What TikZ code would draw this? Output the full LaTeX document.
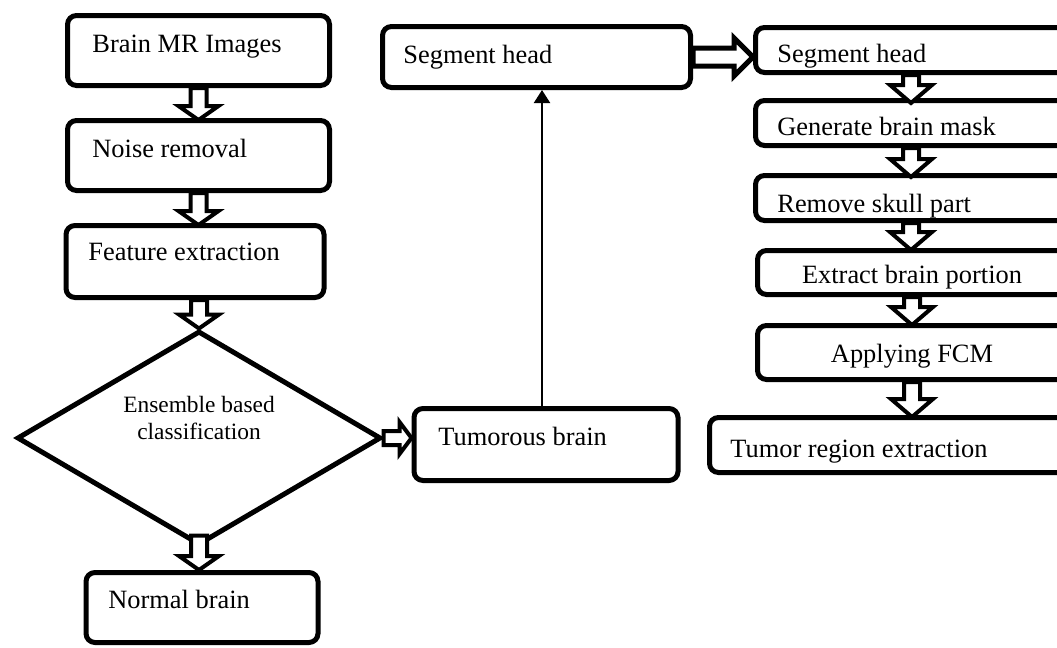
\documentclass[tikz,border=0pt]{standalone}
\usepackage{fontspec}
\setmainfont{Liberation Serif}
\usetikzlibrary{shapes.geometric,arrows.meta,calc}
\begin{document}
\begin{tikzpicture}[x=0.5pt,y=-0.5pt,
  box/.style={draw, line width=2.5pt, rounded corners=4.5pt, fill=white, inner sep=0pt},
  dia/.style={draw, diamond, line width=2.5pt, fill=white, inner sep=0pt},
  txt/.style={font=\fontsize{13.2}{15.8}\selectfont, inner sep=0pt},
  smalltxt/.style={font=\fontsize{11.7}{14}\selectfont, inner sep=0pt},
  bdown/.style n args={3}{draw, fill=white, line width=2pt, line join=miter,
    to path={let \p1=(\tikztostart), \p2=(\tikztotarget) in
      (\x1-#1,\y1) -- (\x1-#1,\y2+#3) -- (\x1-#2,\y2+#3) -- (\x1,\y2)
      -- (\x1+#2,\y2+#3) -- (\x1+#1,\y2+#3) -- (\x1+#1,\y1) -- cycle}},
  bright/.style n args={3}{draw, fill=white, line join=miter,
    to path={let \p1=(\tikztostart), \p2=(\tikztotarget) in
      (\x1,\y1-#1) -- (\x2-#3,\y1-#1) -- (\x2-#3,\y1-#2) -- (\x2,\y1)
      -- (\x2-#3,\y1+#2) -- (\x2-#3,\y1+#1) -- (\x1,\y1+#1) -- cycle}},
  bdl/.style={bdown={4pt}{10pt}{7pt}},
  bdr/.style={bdown={4pt}{10.5pt}{9pt}},
  thinarrow/.style={line width=1pt, -{Triangle[length=6.5pt,width=8pt]}}]
\path[use as bounding box, clip] (0,0) rectangle (1057,648);

% left column
\node[box, minimum width=131pt, minimum height=35pt] (b1) at (198.5,50.5) {};
\node[box, minimum width=131pt, minimum height=35pt] (b2) at (198.5,155.5) {};
\node[box, minimum width=129pt, minimum height=36pt] (b3) at (195,261.5) {};
\node[dia, minimum width=182pt, minimum height=107pt] (d) at (199,438) {};
\node[box, minimum width=116pt, minimum height=35pt] (nb) at (202,607.5) {};
\node[box, minimum width=132pt, minimum height=36pt] (tum) at (546,444.5) {};
\node[box, minimum width=154pt, minimum height=30.5pt] (seg1) at (536.5,57) {};

% right column
\node[box, minimum width=155.5pt, minimum height=22.5pt] (r1) at (911,50) {};
\node[box, minimum width=155.5pt, minimum height=22.5pt] (r2) at (911,123) {};
\node[box, minimum width=155.5pt, minimum height=22.5pt] (r3) at (911,198) {};
\node[box, minimum width=154.5pt, minimum height=22pt] (r4) at (912,272.5) {};
\node[box, minimum width=154.5pt, minimum height=27pt] (r5) at (912,352.5) {};
\node[box, minimum width=203.5pt, minimum height=27.5pt] (r6) at (913,445) {};

% texts
\node[txt, anchor=base west] (t1) at (92,53) {Brain MR Images};
\node[txt, anchor=base west] (t2) at (92,157) {Noise removal};
\node[txt, anchor=base west] (t3) at (88,260) {Feature extraction};
\node[smalltxt, anchor=base] (td1) at (199,412) {Ensemble based};
\node[smalltxt, anchor=base] (td2) at (199,439) {classification};
\node[txt, anchor=base west] (tnb) at (108,608) {Normal brain};
\node[txt, anchor=base west] (ttum) at (438,445) {Tumorous brain};
\node[txt, anchor=base west] (tseg) at (403,63) {Segment head};
\node[txt, anchor=base west] (tr1) at (777,62) {Segment head};
\node[txt, anchor=base west] (tr2) at (777,135) {Generate brain mask};
\node[txt, anchor=base west] (tr3) at (777,212) {Remove skull part};
\node[txt, anchor=base] (tr4) at (912,283) {Extract brain portion};
\node[txt, anchor=base] (tr5) at (912,362) {Applying FCM};
\node[txt, anchor=base west] (tr6) at (730,457) {Tumor region extraction};

% block arrows
\draw[bdl] (b1.south) to ([yshift=-1pt]b2.north);
\draw[bdl] (b2.south) to ([yshift=-1pt]b3.north);
\draw[bdl] (b3.south -| d.north) to (d.north);
\draw[bdl] ([yshift=6pt]d.south) to (nb.north);
\draw[bright={3.5pt}{8pt}{6pt}, line width=2pt] (d.east) to (tum.west);
\draw[bright={4.5pt}{9.5pt}{9.5pt}, line width=2.5pt] (seg1.east) to (r1.west);
\draw[bdr] (r1.south) to ([yshift=-2.5pt]r2.north);
\draw[bdr] (r2.south) to ([yshift=-2pt]r3.north);
\draw[bdr] (r3.south) to ([yshift=-1pt]r4.north);
\draw[bdr] (r4.south) to ([yshift=-1pt]r5.north);
\draw[bdr] (r5.south) to ([yshift=-1pt]r5.south |- r6.north);

% thin arrow
\draw[thinarrow] ([xshift=-2pt]tum.north) -- ([xshift=-2pt]tum.north |- seg1.south);
\end{tikzpicture}
\end{document}
